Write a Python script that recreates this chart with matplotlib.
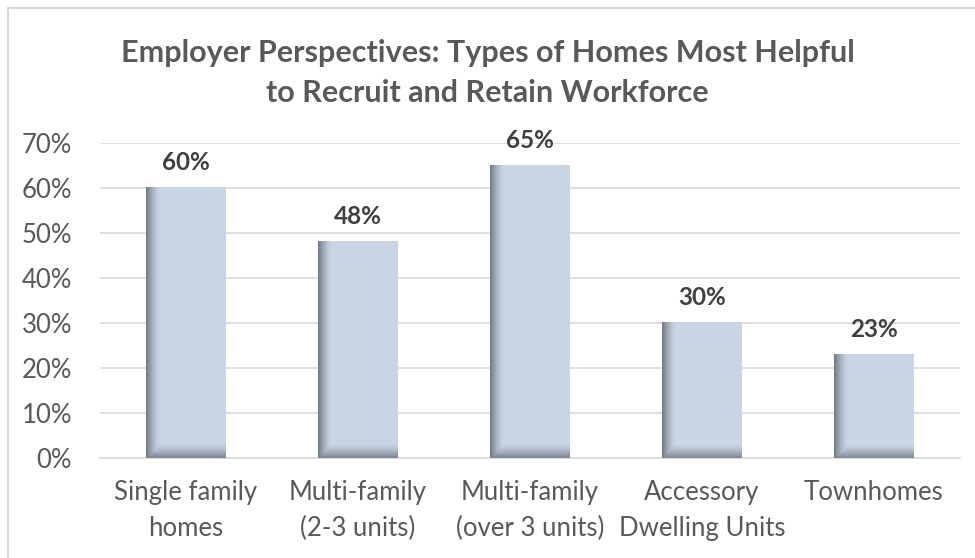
import numpy as np
import matplotlib.pyplot as plt
from matplotlib.lines import Line2D

plt.rcParams['font.family'] = ['Lato', 'DejaVu Sans']

categories = ['Single family\nhomes', 'Multi-family\n(2-3 units)', 'Multi-family\n(over 3 units)',
              'Accessory\nDwelling Units', 'Townhomes']
values = [60, 48, 65, 30, 23]
yticks = [0, 10, 20, 30, 40, 50, 60, 70]

txt = '#595959'
fill = np.array([0.792, 0.835, 0.898])
shade = np.array([0.40, 0.43, 0.47])

fig = plt.figure(figsize=(9.75, 5.58), dpi=100)
ax = fig.add_axes([100/975, 1-458/558, 860/975, 315/558])

x = np.arange(len(values))
w = 0.465

# shaded bar: dark fade on the left and along the bottom
def bar_image(h, nx=60, ny=200):
    u = np.linspace(0, 1, nx)
    v = np.linspace(0, 1, ny)  # 0 = top, 1 = bottom
    left = np.clip(1 - u / 0.17, 0, 1) ** 1.5
    bot_px = (1 - v) * h * 4.5  # distance from bottom in pixels
    bottom = np.clip(1 - bot_px / 14, 0, 1) ** 1.4
    k = np.maximum(left[None, :] * 0.85, bottom[:, None] * 0.75)
    img = fill[None, None, :] * (1 - k[..., None]) + shade[None, None, :] * k[..., None]
    return img

for xi, v in zip(x, values):
    ax.imshow(bar_image(v), extent=(xi - w/2, xi + w/2, 0, v), aspect='auto',
              interpolation='bilinear', zorder=3)
    ax.text(xi, v + 5.6, f'{v}%', ha='center', va='center', fontsize=17.5,
            fontweight='bold', color='#404040', zorder=4)

ax.set_xlim(-0.5, len(values) - 0.5)
ax.set_ylim(0, 70)
ax.set_yticks(yticks)
ax.set_yticklabels([f'{t}%' for t in yticks])
ax.set_xticks(x)
ax.set_xticklabels(categories, linespacing=1.55)
ax.grid(axis='y', color='#d9d9d9', linewidth=1.2, zorder=0)
ax.set_axisbelow(True)
for s in ['top', 'right', 'left']:
    ax.spines[s].set_visible(False)
ax.spines['bottom'].set_color('#d9d9d9')
ax.spines['bottom'].set_linewidth(1.2)
ax.tick_params(axis='both', length=0, labelsize=18.5, colors=txt)
ax.tick_params(axis='y', pad=20)
ax.tick_params(axis='x', pad=16)

fig.text(0.5, 1 - 53/558, 'Employer Perspectives: Types of Homes Most Helpful',
         ha='center', va='center', fontsize=22, fontweight='bold', color=txt)
fig.text(0.5, 1 - 93/558, 'to Recruit and Retain Workforce',
         ha='center', va='center', fontsize=22, fontweight='bold', color=txt)

# chart frame
fig.add_artist(Line2D([8/975, 1], [1 - 8/558, 1 - 8/558], color='#d9d9d9', lw=1.5))
fig.add_artist(Line2D([8/975, 8/975], [0, 1 - 8/558], color='#d9d9d9', lw=1.5))

fig.savefig('out.png', dpi=100)
